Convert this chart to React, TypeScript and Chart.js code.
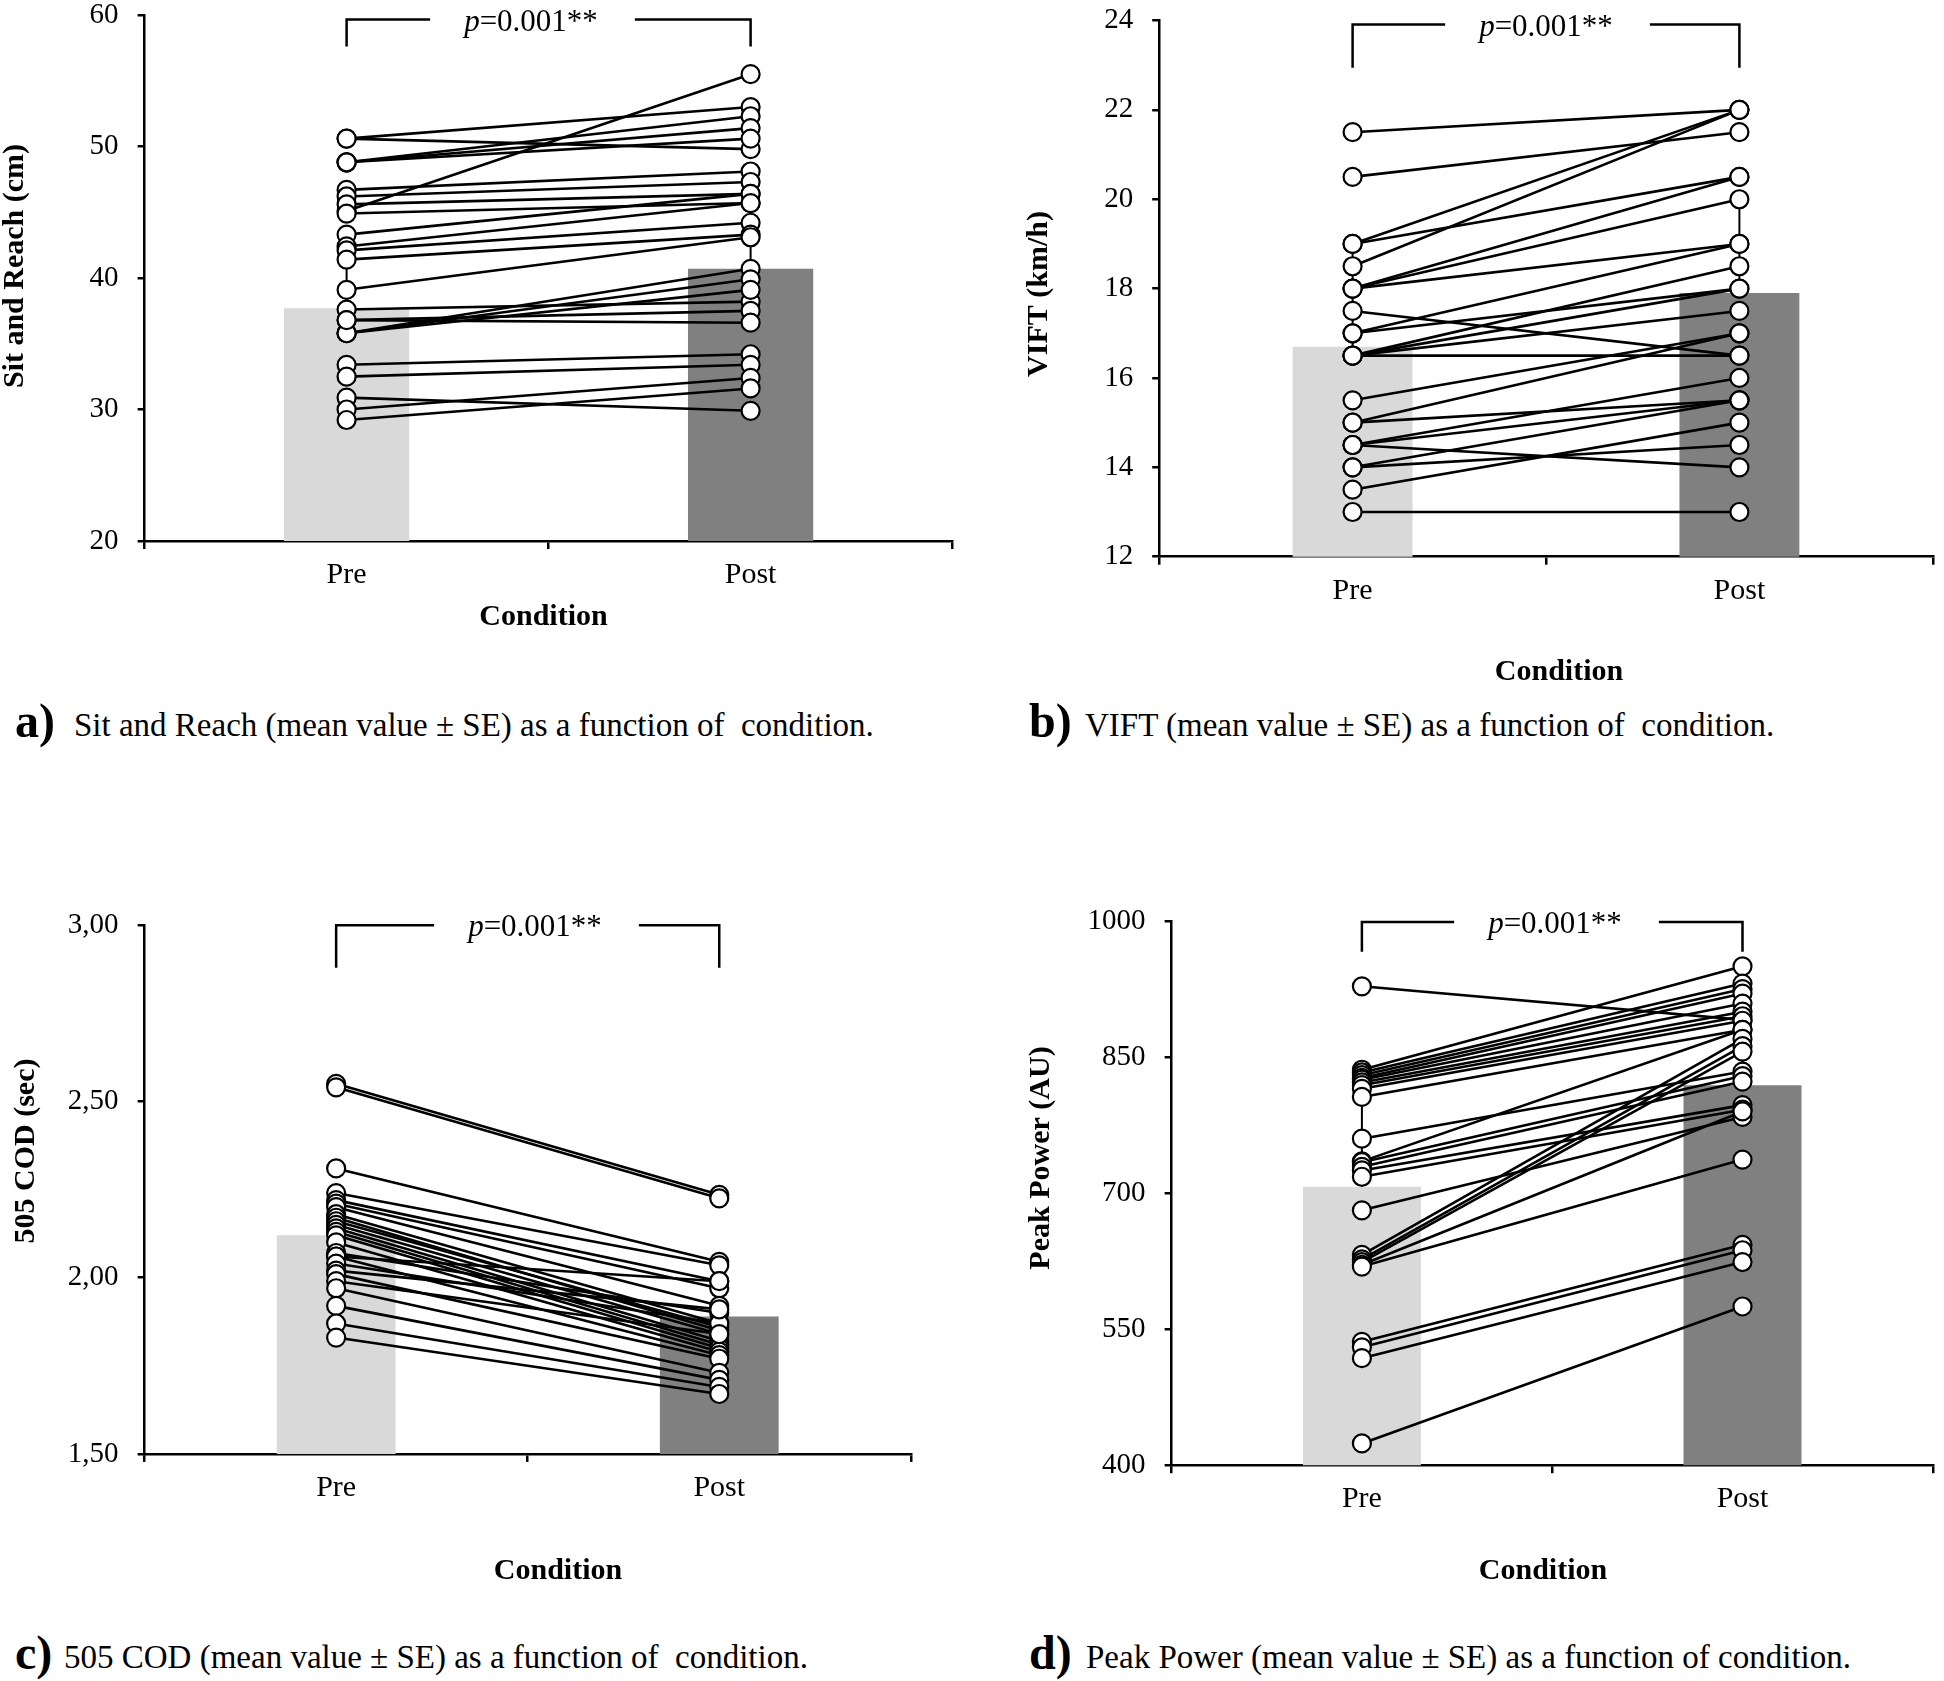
import React, { useEffect, useRef } from 'react';
import { Chart, registerables } from 'chart.js';

Chart.register(...registerables);

const categories = ['Pre', 'Post'];

// a) Sit and Reach (cm)
const sitReachPre = [50.6, 50.6, 48.8, 48.8, 48.8, 45.1, 46.7, 46.2, 45.6, 44.9, 43.3, 42.4, 42.1, 41.4, 39.1, 37.6, 36.8, 35.8, 35.8, 35.8, 36.8, 33.4, 32.5, 30.9, 30.0, 29.2];
const sitReachPost = [53.0, 49.8, 52.3, 51.4, 50.6, 55.5, 48.1, 47.3, 46.4, 45.7, 46.4, 45.7, 44.2, 43.3, 43.1, 38.2, 37.5, 40.7, 39.9, 39.1, 36.6, 34.2, 33.4, 29.9, 32.4, 31.6];
const sitReachMean = [37.7, 40.7];
const sitReachErr = [3.7, 2.5];
const sitReachTicks = { min: 20, max: 60, step: 10 };

// b) VIFT (km/h)
const viftPre = [21.5, 20.5, 19.0, 19.0, 18.5, 18.0, 18.0, 18.0, 17.5, 17.0, 17.0, 16.5, 16.5, 16.5, 16.5, 15.5, 15.0, 15.0, 14.5, 14.5, 14.5, 14.0, 14.0, 13.5, 13.0];
const viftPost = [22.0, 21.5, 22.0, 20.5, 22.0, 20.5, 20.0, 19.0, 16.5, 19.0, 18.0, 18.5, 18.0, 17.5, 16.5, 17.0, 17.0, 15.5, 16.0, 14.0, 15.5, 15.5, 14.5, 15.0, 13.0];
const viftMean = [16.7, 17.9];
const viftErr = [2.3, 2.1];
const viftTicks = { min: 12, max: 24, step: 2 };

// c) 505 COD (sec)
const codPre = [2.55, 2.54, 2.31, 2.24, 2.22, 2.21, 2.20, 2.18, 2.17, 2.16, 2.15, 2.14, 2.13, 2.12, 2.10, 2.07, 2.06, 2.06, 2.04, 2.02, 2.01, 1.99, 1.97, 1.92, 1.87, 1.83];
const codPost = [2.235, 2.225, 2.045, 2.035, 1.99, 1.97, 1.92, 1.87, 1.85, 1.86, 1.84, 1.82, 1.81, 1.80, 1.79, 1.90, 1.78, 1.99, 1.87, 1.91, 1.77, 1.84, 1.73, 1.71, 1.69, 1.67];
const codMean = [2.12, 1.89];
const codErr = [0.1, 0.08];
const codTicks = { min: 1.5, max: 3.0, step: 0.5 };

// d) Peak Power (AU)
const powerPre = [928, 836, 833, 830, 827, 825, 822, 819, 815, 806, 760, 735, 734, 729, 725, 718, 681, 632, 627, 624, 621, 619, 536, 530, 518, 424];
const powerPost = [891, 950, 931, 925, 920, 909, 900, 895, 890, 880, 834, 880, 829, 823, 797, 792, 784, 870, 862, 856, 790, 737, 643, 637, 624, 575];
const powerMean = [707, 819];
const powerErr = [99, 40];
const powerTicks = { min: 400, max: 1000, step: 150 };

const pText = 'p';
const pValue = '=0.001**';
const xTitle = 'Condition';

const FONT = '"Liberation Serif", "Times New Roman", serif';
const X_AXIS_H = 80;

type Panel = {
  key: string;
  pre: number[];
  post: number[];
  mean: number[];
  err: number[];
  ticks: { min: number; max: number; step: number };
  comma?: boolean;
  yTitle: string;
  canvas: { left: number; top: number; width: number; height: number };
  area: { left: number; right: number; top: number; bottom: number };
  yTitlePos: [number, number];
  xTitlePos: [number, number];
  bracket: { top: number; bottom: number; textX: number };
};

const panels: Panel[] = [
  {
    key: 'a', pre: sitReachPre, post: sitReachPost, mean: sitReachMean, err: sitReachErr, ticks: sitReachTicks,
    yTitle: 'Sit and Reach (cm)',
    canvas: { left: 0, top: -40, width: 972, height: 740 },
    area: { left: 144.6, right: 952.6, top: 15, bottom: 541 },
    yTitlePos: [15, 266], xTitlePos: [543.5, 617],
    bracket: { top: 59.66, bottom: 57.6, textX: 531 },
  },
  {
    key: 'b', pre: viftPre, post: viftPost, mean: viftMean, err: viftErr, ticks: viftTicks,
    yTitle: 'VIFT (km/h)',
    canvas: { left: 972, top: -40, width: 972, height: 740 },
    area: { left: 1159.2, right: 1941, top: 20.5, bottom: 556.7 },
    yTitlePos: [1039, 294], xTitlePos: [1559, 672],
    bracket: { top: 23.91, bottom: 22.94, textX: 1546 },
  },
  {
    key: 'c', pre: codPre, post: codPost, mean: codMean, err: codErr, ticks: codTicks, comma: true,
    yTitle: '505 COD (sec)',
    canvas: { left: 0, top: 870, width: 972, height: 730 },
    area: { left: 144.6, right: 910.8, top: 925.2, bottom: 1453.9 },
    yTitlePos: [26, 1151], xTitlePos: [558, 1571],
    bracket: { top: 3.0, bottom: 2.879, textX: 535 },
  },
  {
    key: 'd', pre: powerPre, post: powerPost, mean: powerMean, err: powerErr, ticks: powerTicks,
    yTitle: 'Peak Power (AU)',
    canvas: { left: 972, top: 870, width: 972, height: 730 },
    area: { left: 1171.6, right: 1939, top: 921, bottom: 1465.2 },
    yTitlePos: [1041, 1158], xTitlePos: [1543, 1571],
    bracket: { top: 999, bottom: 966, textX: 1555 },
  },
];

const captions = [
  { label: 'a)', text: 'Sit and Reach (mean value ± SE) as a function of  condition.', lx: 15, tx: 74, base: 737 },
  { label: 'b)', text: 'VIFT (mean value ± SE) as a function of  condition.', lx: 1029, tx: 1085, base: 737 },
  { label: 'c)', text: '505 COD (mean value ± SE) as a function of  condition.', lx: 15, tx: 64, base: 1669 },
  { label: 'd)', text: 'Peak Power (mean value ± SE) as a function of condition.', lx: 1029, tx: 1086, base: 1669 },
];

function makeChart(canvas: HTMLCanvasElement, p: Panel) {
  const xOff = p.canvas.left;
  const yOff = p.canvas.top;
  const padding = {
    left: 0,
    right: p.canvas.width - (p.area.right - xOff),
    top: p.area.top - yOff,
    bottom: p.canvas.height - (p.area.bottom - yOff) - X_AXIS_H,
  };
  const yWidth = p.area.left - xOff;

  const decor = {
    id: 'decor-' + p.key,
    afterDatasetDraw(chart: any, args: any) {
      if (args.index !== 0) return;
      const ctx = chart.ctx;
      const xs = chart.scales.x;
      const ys = chart.scales.y;
      ctx.save();
      ctx.strokeStyle = '#000';
      ctx.lineWidth = 2;
      p.mean.forEach((m, i) => {
        const px = xs.getPixelForValue(i);
        ctx.beginPath();
        ctx.moveTo(px, ys.getPixelForValue(m));
        ctx.lineTo(px, ys.getPixelForValue(m + p.err[i]));
        ctx.stroke();
      });
      ctx.restore();
    },
    afterDraw(chart: any) {
      const ctx = chart.ctx;
      const xs = chart.scales.x;
      const ys = chart.scales.y;
      ctx.save();
      ctx.fillStyle = '#000';
      ctx.strokeStyle = '#000';
      ctx.textBaseline = 'middle';
      ctx.textAlign = 'center';
      // y title
      ctx.font = 'bold 30px ' + FONT;
      ctx.save();
      ctx.translate(p.yTitlePos[0] - xOff, p.yTitlePos[1] - yOff);
      ctx.rotate(-Math.PI / 2);
      ctx.fillText(p.yTitle, 0, 0);
      ctx.restore();
      // x title
      ctx.fillText(xTitle, p.xTitlePos[0] - xOff, p.xTitlePos[1] - yOff);
      // bracket
      const x0 = xs.getPixelForValue(0);
      const x1 = xs.getPixelForValue(1);
      const yt = ys.getPixelForValue(p.bracket.top);
      const yb = ys.getPixelForValue(p.bracket.bottom);
      ctx.font = 'italic 31px ' + FONT;
      const wp = ctx.measureText(pText).width;
      ctx.font = '31px ' + FONT;
      const wr = ctx.measureText(pValue).width;
      const tl = p.bracket.textX - xOff - (wp + wr) / 2;
      const tr = tl + wp + wr;
      ctx.lineWidth = 2.5;
      ctx.beginPath();
      ctx.moveTo(x0, yb);
      ctx.lineTo(x0, yt);
      ctx.lineTo(tl - 34, yt);
      ctx.moveTo(tr + 37, yt);
      ctx.lineTo(x1, yt);
      ctx.lineTo(x1, yb);
      ctx.stroke();
      ctx.textAlign = 'left';
      ctx.font = 'italic 31px ' + FONT;
      ctx.fillText(pText, tl, yt + 3);
      ctx.font = '31px ' + FONT;
      ctx.fillText(pValue, tl + wp, yt + 3);
      ctx.restore();
    },
  };

  const lineSets = p.pre.map((v, i) => ({
    type: 'line' as const,
    data: [v, p.post[i]],
    borderColor: '#000',
    borderWidth: 2.6,
    pointRadius: 0,
    fill: false,
    tension: 0,
    order: 2,
  }));

  const pointSet = {
    type: 'line' as const,
    data: [
      ...p.pre.map((v) => ({ x: categories[0], y: v })),
      ...p.post.map((v) => ({ x: categories[1], y: v })),
    ],
    showLine: false,
    pointRadius: 9,
    pointBorderWidth: 2.2,
    pointBackgroundColor: '#fff',
    pointBorderColor: '#000',
    order: 1,
  };

  const barSet = {
    type: 'bar' as const,
    data: p.mean,
    backgroundColor: ['#d9d9d9', '#808080'],
    borderWidth: 0,
    barPercentage: 0.31,
    categoryPercentage: 1,
    order: 3,
  };

  return new Chart(canvas, {
    type: 'bar',
    data: { labels: categories, datasets: [barSet as any, ...lineSets, pointSet as any] },
    plugins: [decor as any],
    options: {
      animation: false,
      responsive: false,
      devicePixelRatio: 1,
      layout: { padding },
      plugins: { legend: { display: false }, tooltip: { enabled: false } },
      scales: {
        x: {
          type: 'category',
          offset: true,
          grid: { display: true, offset: true, drawOnChartArea: false, drawTicks: true, tickLength: 8, color: '#000', lineWidth: 2.5 },
          border: { display: true, color: '#000', width: 2.5 },
          ticks: { font: { family: FONT, size: 30 }, color: '#000', padding: 8, maxRotation: 0 },
          afterFit: (s: any) => { s.height = X_AXIS_H; },
        },
        y: {
          type: 'linear',
          min: p.ticks.min,
          max: p.ticks.max,
          grid: { display: true, drawOnChartArea: false, drawTicks: true, tickLength: 7, color: '#000', lineWidth: 2.5 },
          border: { display: true, color: '#000', width: 2.5 },
          ticks: {
            stepSize: p.ticks.step,
            font: { family: FONT, size: 29 },
            color: '#000',
            padding: 19,
            callback: (v: any) => (p.comma ? Number(v).toFixed(2).replace('.', ',') : String(v)),
          },
          afterFit: (s: any) => { s.width = yWidth; },
        },
      },
    } as any,
  });
}

function PanelChart({ panel }: { panel: Panel }) {
  const ref = useRef<HTMLCanvasElement | null>(null);
  useEffect(() => {
    if (!ref.current) return;
    const chart = makeChart(ref.current, panel);
    return () => chart.destroy();
  }, [panel]);
  return (
    <canvas
      ref={ref}
      width={panel.canvas.width}
      height={panel.canvas.height}
      style={{
        position: 'absolute',
        left: panel.canvas.left,
        top: panel.canvas.top,
        width: panel.canvas.width,
        height: panel.canvas.height,
      }}
    />
  );
}

export default function App() {
  return (
    <div style={{ position: 'absolute', left: 0, top: 0, width: 1944, height: 1681, background: '#fff', overflow: 'hidden' }}>
      {panels.map((p) => (
        <PanelChart key={p.key} panel={p} />
      ))}
      {captions.map((c) => (
        <React.Fragment key={c.label}>
          <div
            style={{
              position: 'absolute', left: c.lx, top: c.base - 0.8375 * 48, fontFamily: FONT, fontWeight: 'bold',
              fontSize: 48, lineHeight: '48px', whiteSpace: 'pre', color: '#000',
            }}
          >
            {c.label}
          </div>
          <div
            style={{
              position: 'absolute', left: c.tx, top: c.base - 0.8375 * 33, fontFamily: FONT,
              fontSize: 33, lineHeight: '33px', whiteSpace: 'pre', color: '#000',
            }}
          >
            {c.text}
          </div>
        </React.Fragment>
      ))}
    </div>
  );
}
